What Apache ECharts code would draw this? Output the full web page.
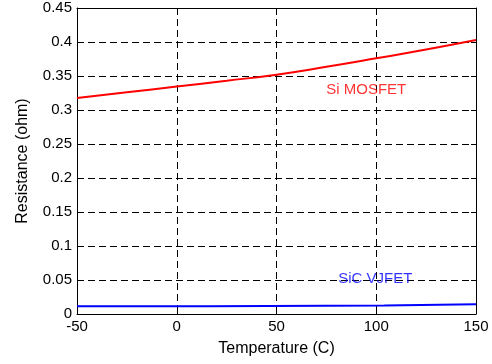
<!DOCTYPE html>
<html>
<head>
<meta charset="utf-8">
<script src="https://cdn.jsdelivr.net/npm/echarts@6/dist/echarts.min.js"></script>
<style>
  html, body { margin: 0; padding: 0; background: #fff; }
  #chart { width: 492px; height: 364px; }
</style>
</head>
<body>
<div id="chart"></div>
<script>
// temperature (C) and resistance (ohm)
const mosfetTemps = [-50, -25, 0, 25, 50, 75, 100, 125, 150];
const mosfetRes = [0.3175, 0.326, 0.3345, 0.343, 0.352, 0.3635, 0.376, 0.389, 0.403];

const jfetTemps = [-50, 16, 17, 104, 105, 150];
const jfetRes = [0.0115, 0.0115, 0.0125, 0.0125, 0.0145, 0.0145];

const xTicks = [-50, 0, 50, 100, 150];
const yTicks = [0, 0.05, 0.1, 0.15, 0.2, 0.25, 0.3, 0.35, 0.4, 0.45];

const labels = [
  { text: "Si MOSFET", at: [95, 0.33], color: "#ff0000" },
  { text: "SiC VJFET", at: [99.5, 0.0514], color: "#0000ff" }
];

const font = "'Liberation Sans', Arial, sans-serif";
const dash = { color: "#000", width: 1, type: [7, 4] };

const chart = echarts.init(document.getElementById("chart"));

function pairs(xs, ys) {
  return xs.map((x, i) => [x, ys[i]]);
}

const baseX = {
  type: "value",
  min: xTicks[0],
  max: xTicks[xTicks.length - 1],
  interval: 50,
  axisLine: { show: true, onZero: false, lineStyle: { color: "#000", width: 1 } },
  axisTick: { show: true, inside: true, length: 5, lineStyle: { color: "#000" } }
};
const baseY = {
  type: "value",
  min: yTicks[0],
  max: yTicks[yTicks.length - 1],
  interval: 0.05,
  axisLine: { show: true, onZero: false, lineStyle: { color: "#000", width: 1 } },
  axisTick: { show: true, inside: true, length: 5, lineStyle: { color: "#000" } }
};

chart.setOption({
  animation: false,
  backgroundColor: "#fff",
  grid: { left: 77, right: 16, top: 8, bottom: 50 },
  xAxis: [
    Object.assign({}, baseX, {
      position: "bottom",
      name: "Temperature (C)",
      nameLocation: "middle",
      nameGap: 27,
      nameTextStyle: { fontFamily: font, fontSize: 16, color: "#000" },
      axisLabel: { fontFamily: font, fontSize: 15, color: "#000", margin: 5 },
      splitLine: { show: true, lineStyle: dash }
    }),
    Object.assign({}, baseX, {
      position: "top",
      axisLabel: { show: false },
      splitLine: { show: false }
    })
  ],
  yAxis: [
    Object.assign({}, baseY, {
      position: "left",
      name: "Resistance (ohm)",
      nameLocation: "middle",
      nameGap: 46,
      nameTextStyle: { fontFamily: font, fontSize: 16, color: "#000" },
      axisLabel: {
        fontFamily: font, fontSize: 15, color: "#000", margin: 5,
        formatter: v => String(+v.toFixed(2))
      },
      splitLine: { show: true, lineStyle: dash }
    }),
    Object.assign({}, baseY, {
      position: "right",
      axisLabel: { show: false },
      splitLine: { show: false }
    })
  ],
  series: [
    {
      name: "Si MOSFET",
      type: "line",
      data: pairs(mosfetTemps, mosfetRes),
      smooth: true,
      showSymbol: false,
      lineStyle: { color: "#ff0000", width: 2 },
      z: 3
    },
    {
      name: "SiC VJFET",
      type: "line",
      data: pairs(jfetTemps, jfetRes),
      showSymbol: false,
      lineStyle: { color: "#0000ff", width: 2 },
      z: 3
    },
    {
      type: "scatter",
      symbolSize: 0,
      silent: true,
      data: labels.map(l => ({
        value: l.at,
        label: {
          show: true,
          formatter: l.text,
          position: "inside",
          color: l.color,
          fontFamily: font,
          fontSize: 15
        }
      })),
      z: 1
    }
  ]
});
</script>
</body>
</html>
